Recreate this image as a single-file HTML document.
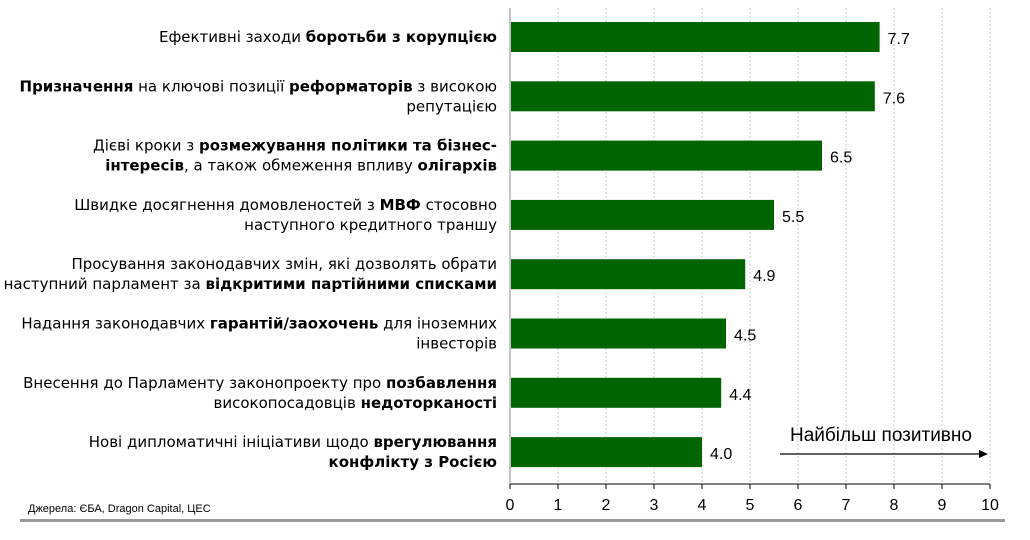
<!DOCTYPE html>
<html><head><meta charset="utf-8"><style>
body{margin:0;width:1030px;height:535px;background:#fff;overflow:hidden;font-family:"Liberation Sans",sans-serif;}
</style></head><body>
<svg id="c" width="1030" height="535" xmlns="http://www.w3.org/2000/svg" style="font-family:'Liberation Sans',sans-serif">
<g id="grid"></g>
<g id="bars"></g>
<g id="labels"></g>
<g id="axis"></g>
<g>
<text x="881" y="441" font-size="19" text-anchor="middle" fill="#000">Найбільш позитивно</text>
<line x1="780" y1="454" x2="980" y2="454" stroke="#000" stroke-width="1.3"/>
<polygon points="988,454 979,450 979,458" fill="#000"/>
</g>
<text x="28" y="512" font-size="11" fill="#000">Джерела: ЄБА, Dragon Capital, ЦЕС</text>
<rect x="20" y="519" width="985" height="3" fill="#9a9a9a"/>
</svg>
<script>
const values=[7.7,7.6,6.5,5.5,4.9,4.5,4.4,4.0];
const valueLabels=["7.7","7.6","6.5","5.5","4.9","4.5","4.4","4.0"];
const categories=[
 [[["Ефективні заходи ",0],["боротьби з корупцією",1]]],
 [[["Призначення",1],[" на ключові позиції ",0],["реформаторів",1],[" з високою",0]],[["репутацією",0]]],
 [[["Дієві кроки з ",0],["розмежування політики та бізнес-",1]],[["інтересів",1],[", а також обмеження впливу ",0],["олігархів",1]]],
 [[["Швидке досягнення домовленостей з ",0],["МВФ",1],[" стосовно",0]],[["наступного кредитного траншу",0]]],
 [[["Просування законодавчих змін, які дозволять обрати",0]],[["наступний парламент за ",0],["відкритими партійними списками",1]]],
 [[["Надання законодавчих ",0],["гарантій/заохочень",1],[" для іноземних",0]],[["інвесторів",0]]],
 [[["Внесення до Парламенту законопроекту про ",0],["позбавлення",1]],[["високопосадовців ",0],["недоторканості",1]]],
 [[["Нові дипломатичні ініціативи щодо ",0],["врегулювання",1]],[["конфлікту з Росією",1]]]
];
const ticks=[0,1,2,3,4,5,6,7,8,9,10];
const NS="http://www.w3.org/2000/svg";
const x0=510,x1=990,yTop=8,yAxis=484,row0=37,rowStep=59.3,barH=30;
function xs(v){return x0+(v-0)/(10-0)*(x1-x0);}
function yc(i){return row0+i*rowStep;}
function mk(t,a,p){const e=document.createElementNS(NS,t);for(const k in a)e.setAttribute(k,a[k]);p.appendChild(e);return e;}
const g=document.getElementById('grid'),b=document.getElementById('bars'),l=document.getElementById('labels'),ax=document.getElementById('axis');
ticks.forEach(t=>{
 if(t>0){const gl=mk('line',{x1:xs(t),x2:xs(t),y1:yTop,y2:yAxis,stroke:'#c8c8c8','stroke-width':1,'stroke-dasharray':'2,2'},g);
 
 }
 const tk=mk('line',{x1:xs(t),x2:xs(t),y1:yAxis,y2:yAxis+5,stroke:'#000'},ax);
 
 
 const tl=mk('text',{x:xs(t),y:510,'font-size':16,'text-anchor':'middle',fill:'#000'},ax);tl.textContent=t;
 
 
});
const al=mk('line',{x1:x0,x2:x1,y1:yAxis,y2:yAxis,stroke:'#000'},ax);


const yl=mk('line',{x1:x0,x2:x0,y1:yTop,y2:yAxis,stroke:'#888'},ax);


values.forEach((v,i)=>{
 const r=mk('rect',{x:x0+1,y:yc(i)-barH/2,width:xs(v)-x0-1,height:barH,fill:'#006400'},b);
 
 
 const vt=mk('text',{x:xs(v)+8,y:yc(i)+7,'font-size':16,fill:'#000'},b);vt.textContent=valueLabels[i];
 
 
 const lines=categories[i];const n=lines.length;
 lines.forEach((ln,j)=>{
  const y=yc(i)+5+(j-(n-1)/2)*20;
  const tx=mk('text',{x:497,y:y,'font-size':15,'text-anchor':'end',fill:'#000','font-family':"'DejaVu Sans',sans-serif"},l);
  
  
  ln.forEach(seg=>{const s=mk('tspan',{'font-weight':seg[1]?'bold':'normal'},tx);s.textContent=seg[0];});
 });
});
</script>
</body></html>
